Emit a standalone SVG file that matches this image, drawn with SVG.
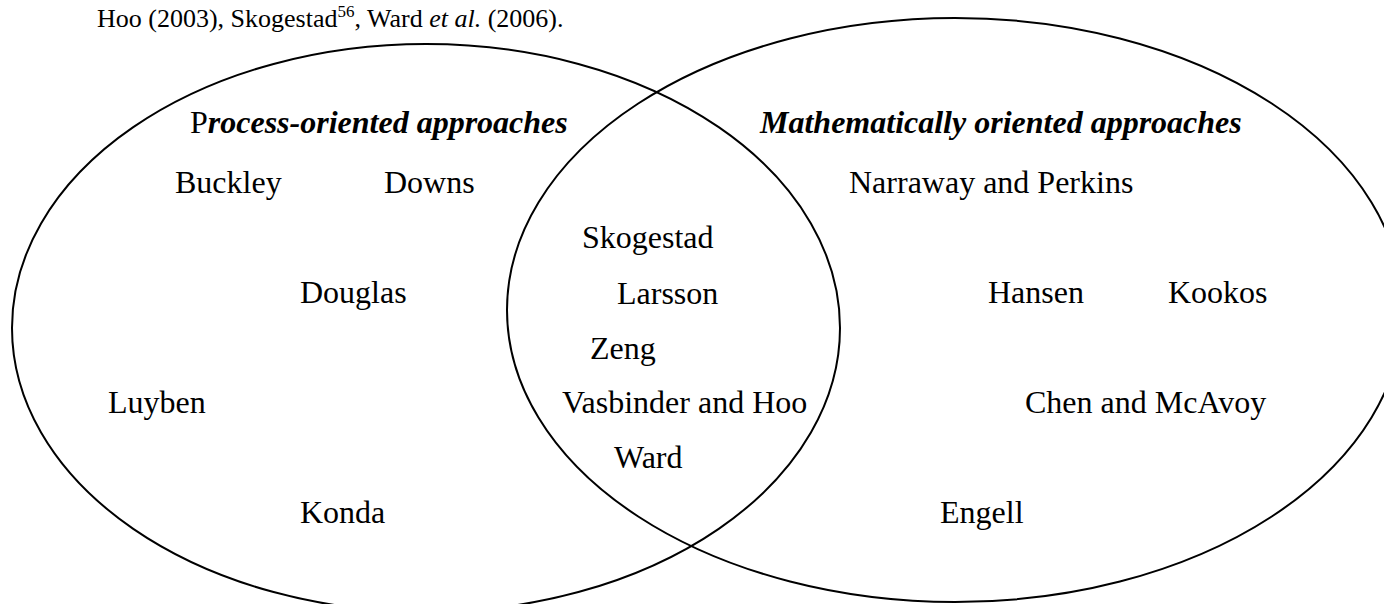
<svg xmlns="http://www.w3.org/2000/svg" width="1384" height="604" viewBox="0 0 1384 604">
  <style>
    text { font-family: "Liberation Serif", "Times New Roman", Times, serif; fill: #000; }
    .name { font-size: 32px; }
    .head { font-size: 32px; font-weight: bold; font-style: italic; }
    .cite { font-size: 26px; }
    .set { fill: none; stroke: #000; stroke-width: 2; }
  </style>
  <rect width="1384" height="604" fill="#fff"/>

  <!-- citation line above the diagram -->
  <text class="cite" x="97" y="27">Hoo (2003), Skogestad<tspan font-size="17" dy="-10">56</tspan><tspan dy="10">, Ward </tspan><tspan font-style="italic">et al.</tspan> (2006).</text>

  <!-- the two overlapping sets -->
  <g id="process-set">
    <ellipse class="set" cx="426" cy="328" rx="414" ry="284"/>
    <text class="head" x="190" y="133"><tspan font-weight="normal" font-style="normal">P</tspan>rocess-oriented approaches</text>
    <text class="name" x="175" y="193">Buckley</text>
    <text class="name" x="384" y="193">Downs</text>
    <text class="name" x="300" y="303">Douglas</text>
    <text class="name" x="108" y="413">Luyben</text>
    <text class="name" x="300" y="523">Konda</text>
  </g>

  <g id="math-set">
    <ellipse class="set" cx="955" cy="310" rx="448" ry="292"/>
    <text class="head" x="760" y="133">Mathematically oriented approaches</text>
    <text class="name" x="849" y="193">Narraway and Perkins</text>
    <text class="name" x="988" y="303">Hansen</text>
    <text class="name" x="1168" y="303">Kookos</text>
    <text class="name" x="1025" y="413">Chen and McAvoy</text>
    <text class="name" x="940" y="523">Engell</text>
  </g>

  <g id="overlap">
    <text class="name" x="582" y="248">Skogestad</text>
    <text class="name" x="617" y="304">Larsson</text>
    <text class="name" x="590" y="359">Zeng</text>
    <text class="name" x="562" y="413">Vasbinder and Hoo</text>
    <text class="name" x="614" y="468">Ward</text>
  </g>

  <g id="connectors"/>
</svg>
